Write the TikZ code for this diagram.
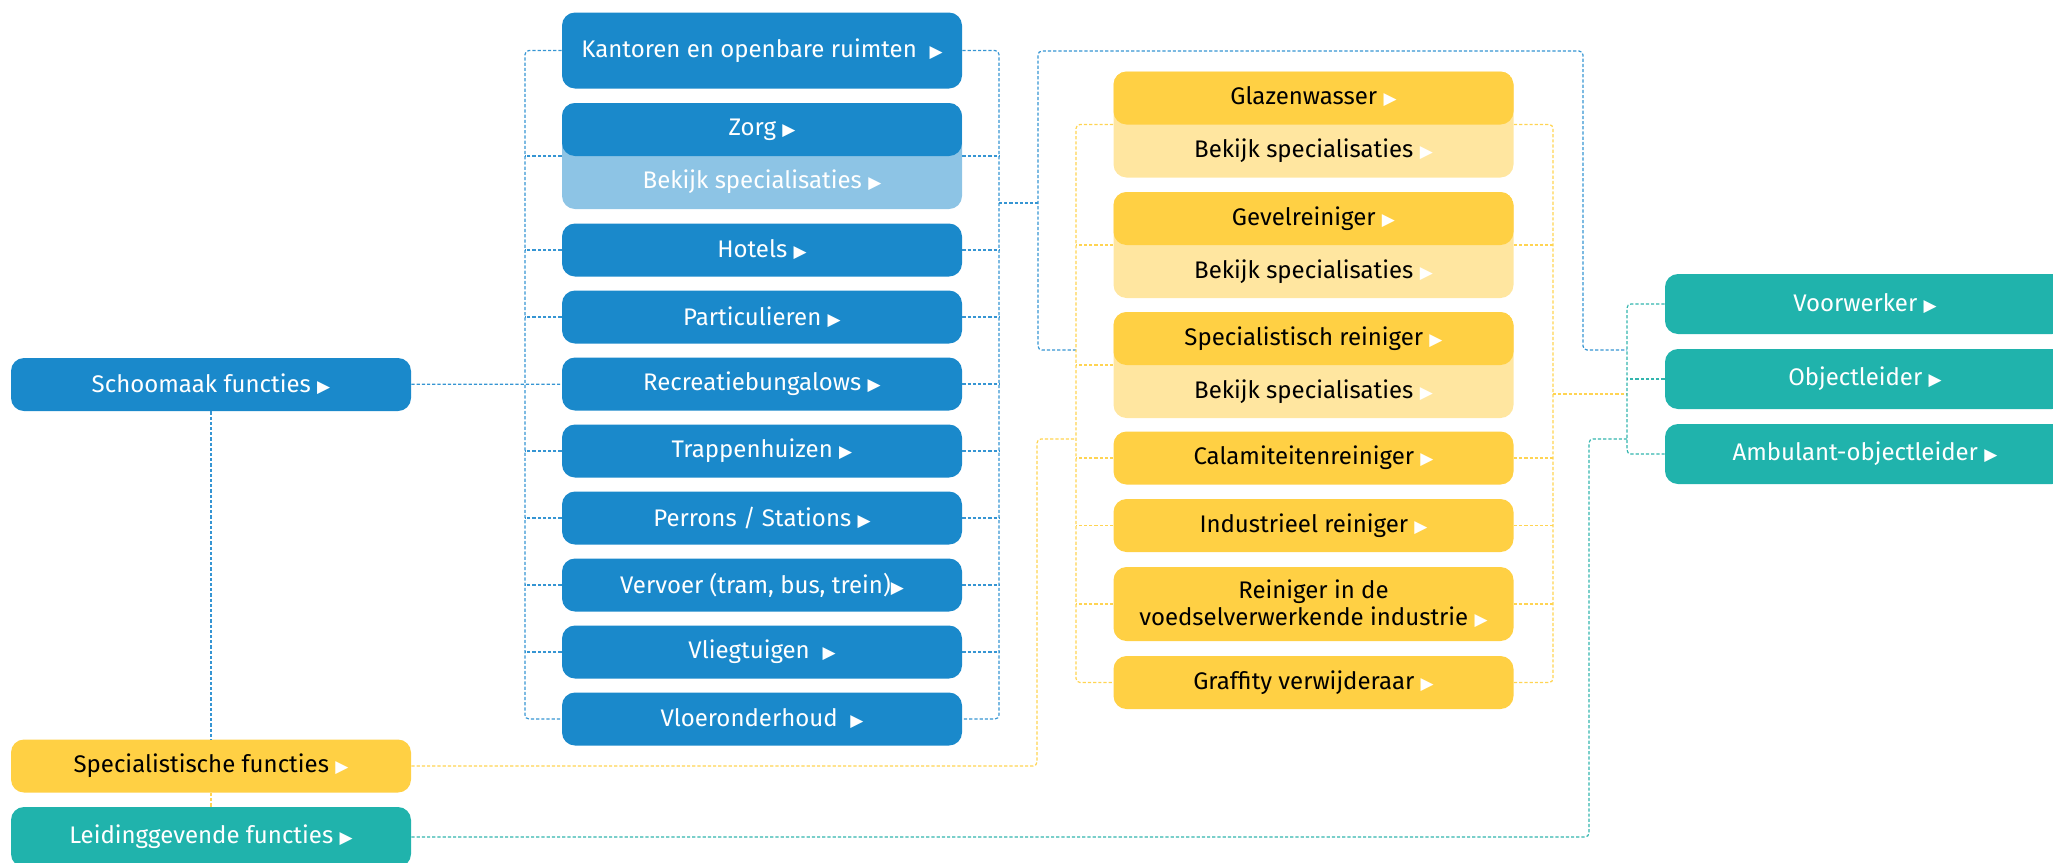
\documentclass[tikz,border=0pt]{standalone}
\usepackage{fontspec}
\setmainfont{Fira Sans}
\newfontfamily\symfont{DejaVu Sans}
\definecolor{blueA}{HTML}{1A89CB}
\definecolor{blueB}{HTML}{8DC4E5}
\definecolor{yellowA}{HTML}{FFD044}
\definecolor{yellowB}{HTML}{FFE6A0}
\definecolor{tealA}{HTML}{20B3AC}
\definecolor{blueL}{HTML}{3595D3}
\definecolor{yellowL}{HTML}{FFD452}
\definecolor{tealL}{HTML}{33B5AE}
\newcommand\tri{{\color{white}\symfont\fontsize{8.5}{8.5}\selectfont ▶}}

\begin{document}
\begin{tikzpicture}[x=0.5pt, y=-0.5pt,
    box/.style={rounded corners=6.5pt, minimum width=200pt, minimum height=26.5pt, inner sep=0pt,
      font=\fontsize{12}{14}\selectfont, align=center},
    bluebox/.style={box, fill=blueA, text=white},
    yellowbox/.style={box, fill=yellowA, text=black},
    tealbox/.style={box, fill=tealA, text=white},
    splitbox/.style 2 args={box, minimum height=53pt, fill=#2, font=\fontsize{12}{26.5}\selectfont,
      path picture={\fill[#1] (path picture bounding box.north west) rectangle (path picture bounding box.east);}},
    link/.style={line width=0.6pt, dash pattern=on 1.6pt off 1pt, rounded corners=2pt},
    bl/.style={link, blueL}, yl/.style={link, yellowL}, tl/.style={link, tealL}]
    \useasboundingbox (0,0) rectangle (2053,863);
    \clip (0,0) rectangle (2053,863);
    \node[bluebox] (school) at (211,384.5) {Schoomaak functies \tri};
    \node[yellowbox] (spec) at (211,766) {Specialistische functies \tri};
    \node[tealbox, minimum height=30pt] (leid) at (211,837) {Leidinggevende functies \tri};
    \node[bluebox, minimum height=38pt] (kant) at (762,50.5) {Kantoren en openbare ruimten\ \ \tri};
    \node[splitbox={blueA}{blueB}, text=white] (zorg) at (762,156) {Zorg \tri\\Bekijk specialisaties \tri};
    \foreach \n/\t [count=\i from 0] in {hotels/{Hotels \tri}, partic/{Particulieren \tri},
        recr/{Recreatiebungalows \tri}, trapp/{Trappenhuizen \tri}, perrons/{Perrons / Stations \tri},
        vervoer/{Vervoer (tram, bus, trein)\tri}, vlieg/{Vliegtuigen\ \ \tri}, vloer/{Vloeronderhoud\ \ \tri}}
      \node[bluebox] (\n) at (762,250+67*\i) {\t};
    \node[splitbox={yellowA}{yellowB}] (glaz) at (1313.5,124.5) {Glazenwasser \tri\\Bekijk specialisaties \tri};
    \node[splitbox={yellowA}{yellowB}] (gevel) at (1313.5,245) {Gevelreiniger \tri\\Bekijk specialisaties \tri};
    \node[splitbox={yellowA}{yellowB}] (specr) at (1313.5,365) {Specialistisch reiniger \tri\\Bekijk specialisaties \tri};
    \node[yellowbox] (calam) at (1313.5,458) {Calamiteitenreiniger \tri};
    \node[yellowbox] (indus) at (1313.5,525.5) {Industrieel reiniger \tri};
    \node[yellowbox, minimum height=37pt, font=\fontsize{12}{13.5}\selectfont] (reinig) at (1313.5,604)
      {Reiniger in de\\voedselverwerkende industrie \tri};
    \node[yellowbox] (graff) at (1313.5,682.5) {Graffity verwijderaar \tri};
    \node[tealbox, minimum height=30pt] (voor) at (1865,304) {Voorwerker \tri};
    \node[tealbox, minimum height=30pt] (obj) at (1865,379) {Objectleider \tri};
    \node[tealbox, minimum height=30pt] (amb) at (1865,454) {Ambulant-objectleider \tri};
    \coordinate (lb) at (525,385);
    \coordinate (rb) at (999,385);
    \coordinate (bj) at (1038,203);
    \coordinate (bl1) at (1038,51);
    \coordinate (bl2) at (1583,350);
    \coordinate (yb) at (1076,400);
    \coordinate (ybr) at (1553,394);
    \coordinate (tb) at (1627,379);
    \coordinate (sc) at (1037,439);
    \coordinate (lc) at (1589,439);
    \draw[bl] (school) -- (recr);
    \draw[bl] (school) -- (spec);
    \draw[yl] (spec) -- (leid);
    \draw[bl] (kant.west) -| (lb) |- (vloer.west);
    \draw[bl] (kant.east) -| (rb) |- (vloer.east);
    \foreach \n in {zorg,hotels,partic,trapp,perrons,vervoer,vlieg}
      \draw[bl] (\n.west) -- (\n.west -| lb);
    \foreach \n in {zorg,hotels,partic,recr,trapp,perrons,vervoer,vlieg}
      \draw[bl] (\n.east) -- (\n.east -| rb);
    \draw[bl] (rb |- bj) -- (bj);
    \draw[bl] (yb |- bl2) -| (bl1) -| (bl2) -- (tb |- bl2);
    \draw[yl] (glaz.west) -| (yb) |- (graff.west);
    \draw[yl] (glaz.east) -| (ybr) |- (graff.east);
    \foreach \n in {gevel,specr,calam,indus,reinig}
      \draw[yl] (\n.west) -- (\n.west -| yb);
    \foreach \n in {gevel,calam,indus,reinig}
      \draw[yl] (\n.east) -- (\n.east -| ybr);
    \draw[yl] (ybr) -- (ybr -| tb);
    \draw[yl] (spec.east) -| (sc) -- (sc -| yb);
    \draw[tl] (leid.east) -| (lc) -- (lc -| tb);
    \draw[tl] (voor.west) -| (tb) |- (amb.west);
    \draw[tl] (obj.west) -- (obj.west -| tb);
\end{tikzpicture}
\end{document}
